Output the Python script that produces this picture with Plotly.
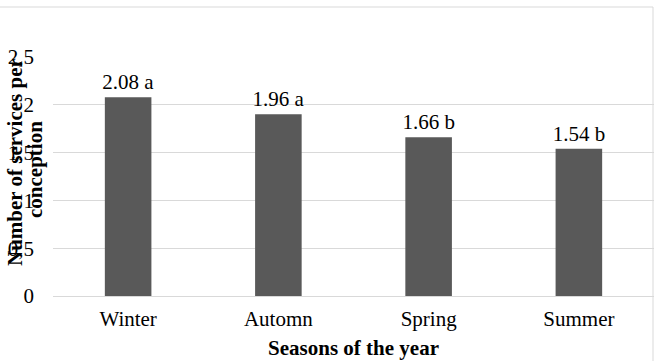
import plotly.graph_objects as go

seasons = ["Winter", "Automn", "Spring", "Summer"]
services = [2.08, 1.90, 1.66, 1.54]
bar_labels = ["2.08 a", "1.96 a", "1.66 b", "1.54 b"]
y_tick_vals = [0, 0.5, 1, 1.5, 2, 2.5]
y_tick_text = ["0", "0,5", "1", "1,5", "2", "2,5"]

W, H = 660, 361
ML, MR, MT, MB = 53, 6, 57, 65
FONT = "Liberation Serif"


def px_x(px):
    return (px - ML) / (W - ML - MR)


def px_y(py):
    return (H - MB - py) / (H - MT - MB)


label_font = dict(family=FONT, size=21, color="#000000")

fig = go.Figure(
    go.Bar(
        x=seasons,
        y=services,
        text=bar_labels,
        textposition="outside",
        constraintext="none",
        textfont=label_font,
        outsidetextfont=label_font,
        marker=dict(color="#595959", line=dict(width=0)),
        width=0.31,
        cliponaxis=False,
    )
)

fig.update_layout(
    width=W,
    height=H,
    margin=dict(l=ML, r=MR, t=MT, b=MB),
    paper_bgcolor="white",
    plot_bgcolor="white",
    showlegend=False,
    font=dict(family=FONT, size=21, color="#000000"),
    xaxis=dict(
        showgrid=False,
        showline=False,
        ticks="",
        ticklabelstandoff=8,
        tickfont=dict(family=FONT, size=21, color="#000000"),
        title=dict(
            text="<b>Seasons of the year</b>",
            font=dict(family=FONT, size=21, color="#000000"),
            standoff=10,
        ),
    ),
    yaxis=dict(
        range=[0, 2.5],
        tickvals=y_tick_vals,
        ticktext=y_tick_text,
        showgrid=True,
        gridcolor="#d9d9d9",
        gridwidth=1,
        zeroline=True,
        zerolinecolor="#d9d9d9",
        zerolinewidth=1,
        showline=False,
        ticks="",
        ticklabelstandoff=18,
        tickfont=dict(family=FONT, size=21, color="#000000"),
    ),
    annotations=[
        dict(
            text="<b>Number of services per</b>",
            textangle=-90,
            xref="paper", yref="paper",
            x=px_x(15), y=px_y(162),
            xanchor="center", yanchor="middle",
            showarrow=False,
            font=dict(family=FONT, size=21, color="#000000"),
        ),
        dict(
            text="<b>conception</b>",
            textangle=-90,
            xref="paper", yref="paper",
            x=px_x(35), y=px_y(170),
            xanchor="center", yanchor="middle",
            showarrow=False,
            font=dict(family=FONT, size=21, color="#000000"),
        ),
    ],
    shapes=[
        dict(type="line", xref="paper", yref="paper",
             x0=px_x(0), x1=px_x(653), y0=px_y(7), y1=px_y(7),
             line=dict(color="#d9d9d9", width=1)),
        dict(type="line", xref="paper", yref="paper",
             x0=px_x(653), x1=px_x(653), y0=px_y(7), y1=px_y(361),
             line=dict(color="#d9d9d9", width=1)),
    ],
)

fig.write_html("out.html")
